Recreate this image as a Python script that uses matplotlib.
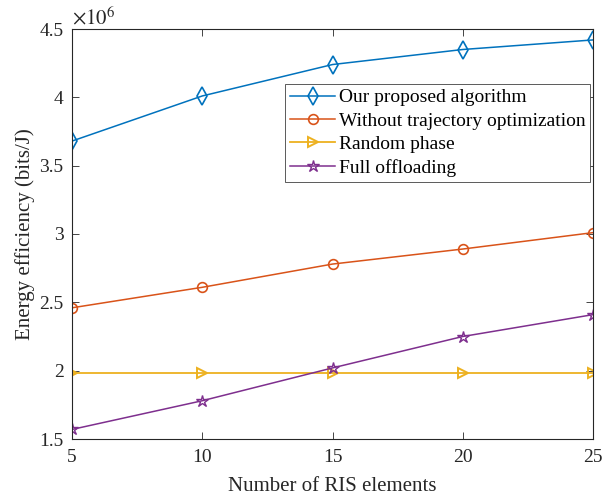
import matplotlib
matplotlib.use("Agg")
import matplotlib.pyplot as plt
from matplotlib.ticker import FuncFormatter

plt.rcParams['font.family'] = ['Liberation Serif', 'DejaVu Serif']
plt.rcParams['mathtext.fontset'] = 'stix'

ris_elements = [5, 10, 15, 20, 25]
proposed = [3.68e6, 4.01e6, 4.24e6, 4.35e6, 4.42e6]
no_traj = [2.46e6, 2.61e6, 2.78e6, 2.89e6, 3.01e6]
random_phase = [1.98e6, 1.98e6, 1.98e6, 1.98e6, 1.98e6]
full_offload = [1.57e6, 1.78e6, 2.02e6, 2.25e6, 2.41e6]
labels = ['Our proposed algorithm', 'Without trajectory optimization',
          'Random phase', 'Full offloading']

fig = plt.figure(figsize=(6.13, 4.99), dpi=100)
ax = fig.add_axes([72/613, 1-439/499, (593-72)/613, (439-29)/499])

c1 = (0, 0.447, 0.741)
c2 = (0.85, 0.325, 0.098)
c3 = (0.929, 0.694, 0.125)
c4 = (0.494, 0.184, 0.556)

ax.plot(ris_elements, proposed, '-d', color=c1, mfc='none', ms=9, mew=1.2, lw=1.1, label=labels[0])
ax.plot(ris_elements, no_traj, '-o', color=c2, mfc='none', ms=7, mew=1.2, lw=1.1, label=labels[1])
ax.plot(ris_elements, random_phase, '->', color=c3, mfc='none', ms=7.5, mew=1.4, lw=1.3, label=labels[2])
ax.plot(ris_elements, full_offload, '-*', color=c4, mfc='none', ms=9, mew=1.0, lw=1.1, label=labels[3])

ax.set_xlim(5, 25)
ax.set_ylim(1.5e6, 4.5e6)
ax.set_xticks([5, 10, 15, 20, 25])
ax.set_yticks([1.5e6, 2e6, 2.5e6, 3e6, 3.5e6, 4e6, 4.5e6])
ax.yaxis.set_major_formatter(FuncFormatter(lambda v, _: f"{v/1e6:g}"))
ax.tick_params(direction='in', top=True, right=True, labelsize=14, colors='#262626',
               length=5, width=0.6, pad=6)
ax.tick_params(axis='x', pad=7)
for s in ax.spines.values():
    s.set_color('#262626')
    s.set_linewidth(0.8)

ax.set_xlabel('Number of RIS elements', fontsize=15, color='#262626', labelpad=8)
ax.set_ylabel('Energy efficiency (bits/J)', fontsize=15, color='#262626', labelpad=3)
ax.text(0.0, 1.0, r'$\times10^{6}$', transform=ax.transAxes, fontsize=15, color='#262626', ha='left', va='bottom')

leg = ax.legend(loc='upper right', bbox_to_anchor=(0.995, 0.866), fontsize=14, frameon=True,
                fancybox=False, edgecolor='#404040', framealpha=1, handlelength=2.3,
                borderpad=0.25, labelspacing=0.3, handletextpad=0.2, borderaxespad=0)
leg.get_frame().set_linewidth(0.6)

fig.savefig('out.png', dpi=100)
